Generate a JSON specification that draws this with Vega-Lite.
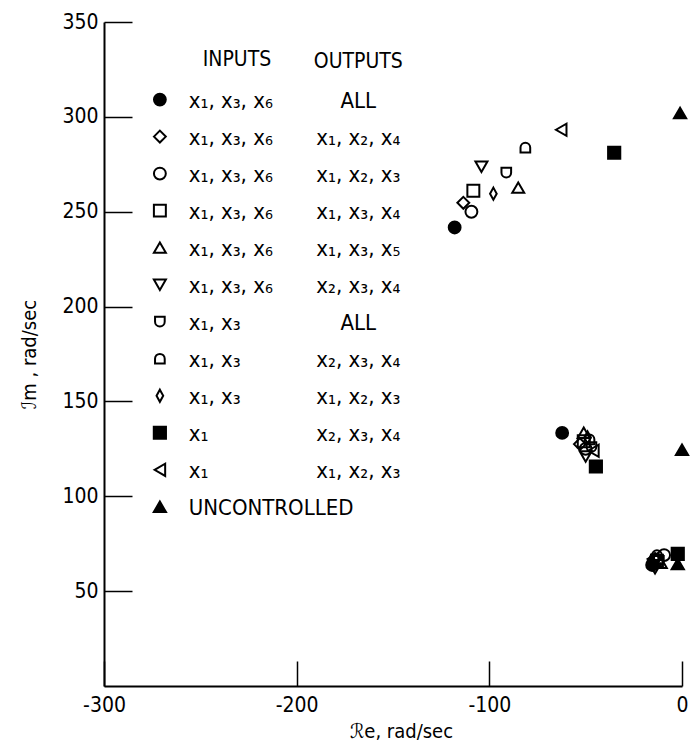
{
  "$schema": "https://vega.github.io/schema/vega-lite/v6.json",
  "width": 578,
  "height": 664,
  "autosize": {"type": "none"},
  "padding": {"left": 104, "top": 22, "right": 11, "bottom": 61},
  "background": "white",
  "config": {
    "view": {"stroke": null},
    "font": "Liberation Sans Narrow, DejaVu Sans Condensed, DejaVu Sans",
    "axis": {"grid": false, "domainColor": "black", "tickColor": "black", "labelColor": "black", "titleColor": "black", "labelFont": "Liberation Sans Narrow, DejaVu Sans Condensed, DejaVu Sans", "titleFont": "Liberation Sans Narrow, DejaVu Sans Condensed, DejaVu Sans"},
    "text": {"font": "Liberation Sans Narrow, DejaVu Sans Condensed, DejaVu Sans", "color": "black"}
  },
  "datasets": {
    "points": [
      {"series": "s1", "re": -118, "im": 241.7},
      {"series": "s1", "re": -62.2, "im": 133.4},
      {"series": "s1", "re": -15.5, "im": 63.8},
      {"series": "s2", "re": -113.5, "im": 254.7},
      {"series": "s2", "re": -53, "im": 127.5},
      {"series": "s2", "re": -14, "im": 67},
      {"series": "s3", "re": -109.3, "im": 250},
      {"series": "s3", "re": -50, "im": 125},
      {"series": "s3", "re": -9.3, "im": 69},
      {"series": "s4", "re": -108.3, "im": 261},
      {"series": "s4", "re": -51, "im": 129},
      {"series": "s4", "re": -13, "im": 66},
      {"series": "s5", "re": -85, "im": 262.7},
      {"series": "s5", "re": -51, "im": 133.5},
      {"series": "s5", "re": -11, "im": 65},
      {"series": "s6", "re": -104.1, "im": 273.7},
      {"series": "s6", "re": -50, "im": 121},
      {"series": "s6", "re": -14, "im": 62},
      {"series": "s7", "re": -91.2, "im": 270.6},
      {"series": "s7", "re": -47, "im": 126},
      {"series": "s7", "re": -12, "im": 66},
      {"series": "s8", "re": -81.3, "im": 283.8},
      {"series": "s8", "re": -48, "im": 130},
      {"series": "s8", "re": -13, "im": 69},
      {"series": "s9", "re": -97.9, "im": 259.5},
      {"series": "s9", "re": -49, "im": 131},
      {"series": "s9", "re": -16, "im": 66},
      {"series": "s10", "re": -35.2, "im": 281.1},
      {"series": "s10", "re": -44.7, "im": 115.7},
      {"series": "s10", "re": -2.2, "im": 69.6},
      {"series": "s11", "re": -62.7, "im": 293.2},
      {"series": "s11", "re": -46, "im": 124},
      {"series": "s11", "re": -15, "im": 67},
      {"series": "s12", "re": -1, "im": 302},
      {"series": "s12", "re": 0, "im": 124.5},
      {"series": "s12", "re": -2.2, "im": 64.3}
    ],
    "legend": [
      {"row": 1, "series": "s1", "inputs": "x₁, x₃, x₆", "outputs": "ALL"},
      {"row": 2, "series": "s2", "inputs": "x₁, x₃, x₆", "outputs": "x₁, x₂, x₄"},
      {"row": 3, "series": "s3", "inputs": "x₁, x₃, x₆", "outputs": "x₁, x₂, x₃"},
      {"row": 4, "series": "s4", "inputs": "x₁, x₃, x₆", "outputs": "x₁, x₃, x₄"},
      {"row": 5, "series": "s5", "inputs": "x₁, x₃, x₆", "outputs": "x₁, x₃, x₅"},
      {"row": 6, "series": "s6", "inputs": "x₁, x₃, x₆", "outputs": "x₂, x₃, x₄"},
      {"row": 7, "series": "s7", "inputs": "x₁, x₃", "outputs": "ALL"},
      {"row": 8, "series": "s8", "inputs": "x₁, x₃", "outputs": "x₂, x₃, x₄"},
      {"row": 9, "series": "s9", "inputs": "x₁, x₃", "outputs": "x₁, x₂, x₃"},
      {"row": 10, "series": "s10", "inputs": "x₁", "outputs": "x₂, x₃, x₄"},
      {"row": 11, "series": "s11", "inputs": "x₁", "outputs": "x₁, x₂, x₃"},
      {"row": 12, "series": "s12", "inputs": "UNCONTROLLED", "outputs": ""}
    ],
    "headers": [
      {"header": "INPUTS", "row": -0.08},
      {"header": "OUTPUTS", "row": -0.02}
    ]
  },
  "layer": [
    {
      "mark": {"type": "rule", "color": "black", "strokeWidth": 2},
      "encoding": {"x": {"datum": 0, "type": "quantitative"}}
    },
    {
      "data": {"name": "points"},
      "mark": {"type": "point", "stroke": "black", "strokeWidth": 2, "opacity": 1},
      "encoding": {
        "x": {
          "field": "re", "type": "quantitative",
          "scale": {"domain": [-300, 0], "nice": false, "zero": false},
          "axis": {
            "values": [-300, -200, -100, 0],
            "labelExpr": "replace(datum.label, '−', '-')",
            "title": "ℛe, rad/sec",
            "titleFontSize": 20, "titleFontWeight": "normal", "titlePadding": 6, "titleX": 297,
            "labelFontSize": 21, "labelPadding": 33, "labelFlush": false,
            "tickSize": -25, "tickWidth": 1.5, "domainWidth": 2
          }
        },
        "y": {
          "field": "im", "type": "quantitative",
          "scale": {"domain": [0, 350], "nice": false},
          "axis": {
            "values": [50, 100, 150, 200, 250, 300, 350],
            "title": "ℐm , rad/sec",
            "titleFontSize": 20, "titleFontWeight": "normal", "titlePadding": 22,
            "labelFontSize": 21, "labelPadding": 34,
            "tickSize": -28, "tickWidth": 1.5, "domainWidth": 2
          }
        },
        "shape": {"field": "series", "type": "nominal", "legend": null, "scale": {"domain": ["s1","s2","s3","s4","s5","s6","s7","s8","s9","s10","s11","s12"], "range": ["circle","diamond","circle","square","triangle-up","triangle-down","M-0.8,-0.8L0.8,-0.8L0.8,0A0.8,0.8 0 0 1 -0.8,0Z","M-0.8,0.8L0.8,0.8L0.8,0A0.8,0.8 0 0 0 -0.8,0Z","M0,-1L0.55,0L0,1L-0.55,0Z","square","triangle-left","triangle-up"]}},
        "fill": {"field": "series", "type": "nominal", "legend": null, "scale": {"domain": ["s1","s2","s3","s4","s5","s6","s7","s8","s9","s10","s11","s12"], "range": ["black","transparent","transparent","transparent","transparent","transparent","transparent","transparent","transparent","black","transparent","black"]}},
        "size": {"field": "series", "type": "nominal", "legend": null, "scale": {"domain": ["s1","s2","s3","s4","s5","s6","s7","s8","s9","s10","s11","s12"], "range": [140, 150, 100, 100, 110, 110, 120, 120, 140, 120, 100, 150]}}
      }
    },
    {
      "data": {"name": "legend"},
      "mark": {"type": "point", "stroke": "black", "strokeWidth": 2, "opacity": 1},
      "encoding": {
        "x": {"datum": -271, "type": "quantitative"},
        "y": {"field": "row", "type": "quantitative", "axis": null, "scale": {"domain": [-1.095, 16.84], "reverse": true, "nice": false, "zero": false}},
        "shape": {"field": "series", "type": "nominal", "legend": null},
        "fill": {"field": "series", "type": "nominal", "legend": null},
        "size": {"field": "series", "type": "nominal", "legend": null}
      }
    },
    {
      "data": {"name": "legend"},
      "mark": {"type": "text", "align": "left", "baseline": "middle", "fontSize": 22, "dy": 1},
      "encoding": {
        "x": {"datum": -256, "type": "quantitative"},
        "y": {"field": "row", "type": "quantitative", "axis": null, "scale": {"domain": [-1.095, 16.84], "reverse": true, "nice": false, "zero": false}},
        "text": {"field": "inputs"}
      }
    },
    {
      "data": {"name": "legend"},
      "mark": {"type": "text", "align": "center", "baseline": "middle", "fontSize": 22, "dy": 1},
      "encoding": {
        "x": {"datum": -168, "type": "quantitative"},
        "y": {"field": "row", "type": "quantitative", "axis": null, "scale": {"domain": [-1.095, 16.84], "reverse": true, "nice": false, "zero": false}},
        "text": {"field": "outputs"}
      }
    },
    {
      "data": {"name": "headers"},
      "transform": [{"filter": "datum.header === 'INPUTS'"}],
      "mark": {"type": "text", "align": "center", "baseline": "middle", "fontSize": 21},
      "encoding": {
        "x": {"datum": -231, "type": "quantitative"},
        "y": {"field": "row", "type": "quantitative", "axis": null, "scale": {"domain": [-1.095, 16.84], "reverse": true, "nice": false, "zero": false}},
        "text": {"field": "header"}
      }
    },
    {
      "data": {"name": "headers"},
      "transform": [{"filter": "datum.header === 'OUTPUTS'"}],
      "mark": {"type": "text", "align": "center", "baseline": "middle", "fontSize": 21},
      "encoding": {
        "x": {"datum": -168, "type": "quantitative"},
        "y": {"field": "row", "type": "quantitative", "axis": null, "scale": {"domain": [-1.095, 16.84], "reverse": true, "nice": false, "zero": false}},
        "text": {"field": "header"}
      }
    }
  ],
  "resolve": {"scale": {"y": "independent"}}
}
